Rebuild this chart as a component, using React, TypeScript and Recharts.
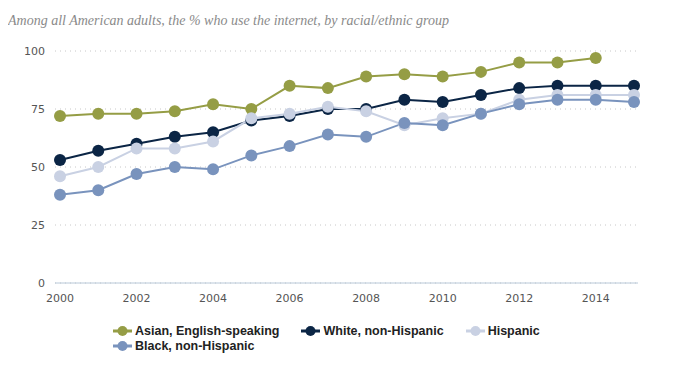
import React from 'react';
import { LineChart, Line, XAxis, YAxis, CartesianGrid } from 'recharts';

const years = [2000, 2001, 2002, 2003, 2004, 2005, 2006, 2007, 2008, 2009, 2010, 2011, 2012, 2013, 2014, 2015];
const asian = [72, 73, 73, 74, 77, 75, 85, 84, 89, 90, 89, 91, 95, 95, 97, null];
const white = [53, 57, 60, 63, 65, 70, 72, 75, 75, 79, 78, 81, 84, 85, 85, 85];
const hispanic = [46, 50, 58, 58, 61, 71, 73, 76, 74, 68, 71, 73, 79, 81, 81, 81];
const black = [38, 40, 47, 50, 49, 55, 59, 64, 63, 69, 68, 73, 77, 79, 79, 78];

const xTicks = [2000, 2002, 2004, 2006, 2008, 2010, 2012, 2014];
const yTicks = [0, 25, 50, 75, 100];

const series = [
  { key: 'asian', name: 'Asian, English-speaking', color: '#959d45' },
  { key: 'white', name: 'White, non-Hispanic', color: '#0b2545' },
  { key: 'hispanic', name: 'Hispanic', color: '#c9d1e3' },
  { key: 'black', name: 'Black, non-Hispanic', color: '#7993bd' },
];

const data = years.map((year, i) => ({
  year,
  asian: asian[i],
  white: white[i],
  hispanic: hispanic[i],
  black: black[i],
}));

const tickStyle = { fontFamily: '"DejaVu Sans", sans-serif', fontSize: 11, fill: '#555' };

function LegendIcon({ color }: { color: string }) {
  return (
    <svg width={19} height={12} style={{ marginRight: 3 }}>
      <line x1={0} y1={6} x2={19} y2={6} stroke={color} strokeWidth={3} />
      <circle cx={9.5} cy={6} r={5} fill={color} />
    </svg>
  );
}

export default function App() {
  return (
    <div style={{ position: 'relative', width: 669, height: 360 }}>
      <div
        style={{
          position: 'absolute',
          left: 0,
          top: 5,
          fontFamily: '"Liberation Serif", serif',
          fontStyle: 'italic',
          fontSize: 14,
          color: '#8a8a8a',
          whiteSpace: 'nowrap',
        }}
      >
        Among all American adults, the % who use the internet, by racial/ethnic group
      </div>
      <LineChart
        width={669}
        height={305}
        data={data}
        margin={{ top: 43, right: 39, bottom: 0, left: 7 }}
      >
        <CartesianGrid vertical={false} stroke="#c8c8c8" strokeDasharray="1 4" />
        <XAxis
          dataKey="year"
          type="number"
          domain={[2000, 2015]}
          ticks={xTicks}
          padding={{ left: 5, right: 4 }}
          height={30}
          tick={tickStyle}
          tickLine={false}
          tickMargin={5}
          axisLine={{ stroke: '#b8c8d8' }}
        />
        <YAxis
          domain={[0, 100]}
          ticks={yTicks}
          width={40}
          tick={tickStyle}
          tickLine={false}
          axisLine={false}
          tickMargin={4}
        />
        {series.map((s) => (
          <Line
            key={s.key}
            dataKey={s.key}
            name={s.name}
            stroke={s.color}
            strokeWidth={2}
            dot={{ r: 6, fill: s.color, stroke: s.color, strokeWidth: 0 }}
            isAnimationActive={false}
          />
        ))}
      </LineChart>
      <div
        style={{
          position: 'absolute',
          left: 105,
          top: 315,
          width: 470,
          display: 'flex',
          flexWrap: 'wrap',
          columnGap: 22,
          rowGap: 0,
          fontFamily: '"Liberation Sans", Arial, sans-serif',
          fontWeight: 'bold',
          fontSize: 12.5,
          color: '#222',
        }}
      >
        {series.map((s) => (
          <div key={s.key} style={{ display: 'flex', alignItems: 'center', height: 15 }}>
            <LegendIcon color={s.color} />
            <span>{s.name}</span>
          </div>
        ))}
      </div>
    </div>
  );
}
